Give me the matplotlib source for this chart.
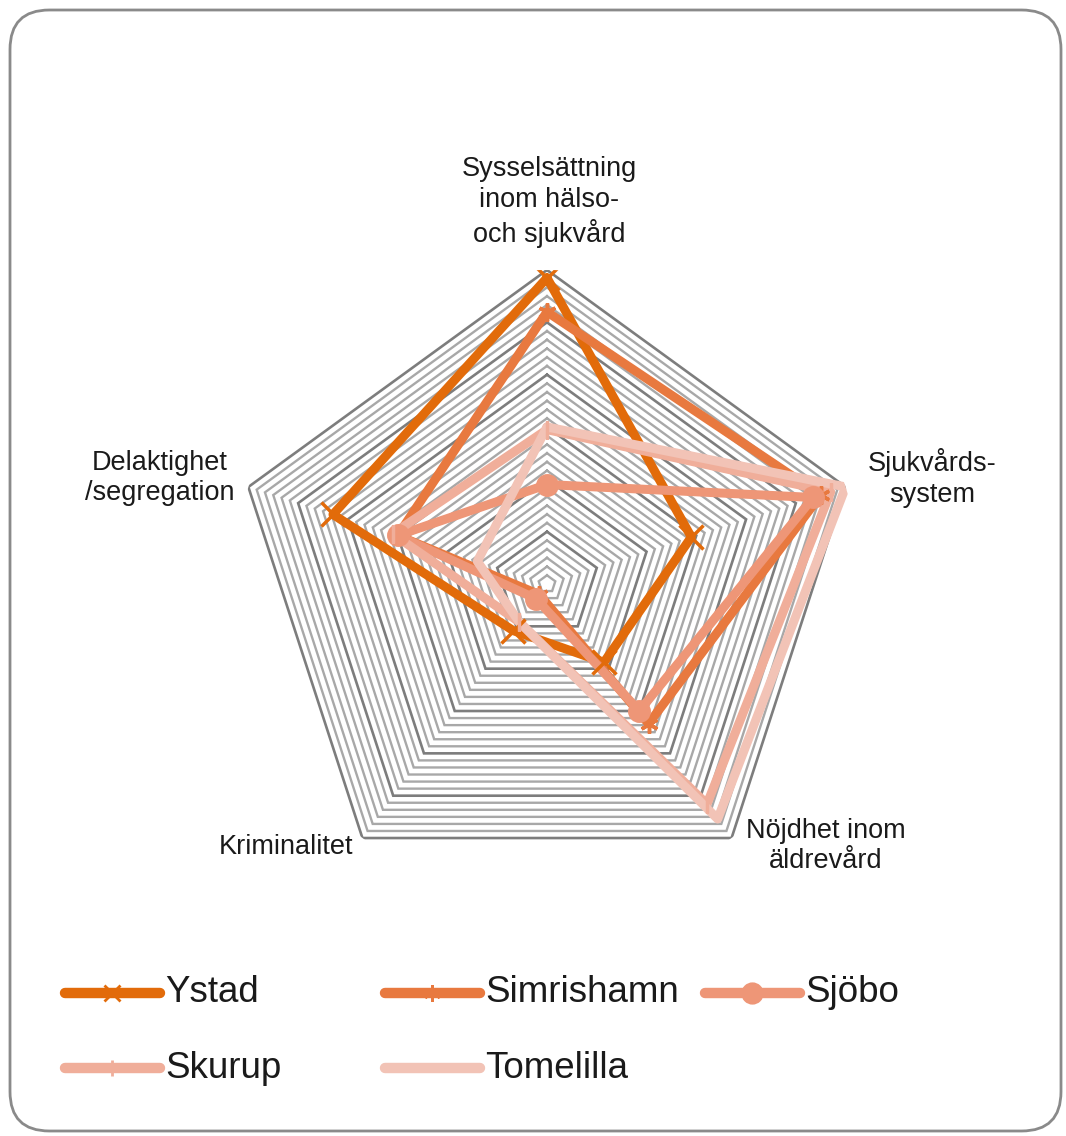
import numpy as np
import matplotlib
matplotlib.use("Agg")
import matplotlib.pyplot as plt
from matplotlib.patches import FancyBboxPatch
from matplotlib.lines import Line2D

# ---------------- data ----------------
categories = ["Sysselsättning\ninom hälso-\noch sjukvård",
              "Sjukvårds-\nsystem",
              "Nöjdhet inom\näldrevård",
              "Kriminalitet",
              "Delaktighet\n/segregation"]
series_names = ["Ystad", "Simrishamn", "Sjöbo", "Skurup", "Tomelilla"]
ystad      = [5.85, 2.90, 1.85, 1.10, 4.30]
simrishamn = [5.20, 5.50, 3.30, 0.25, 3.00]
sjobo      = [1.90, 5.35, 3.00, 0.35, 3.00]
skurup     = [2.95, 5.70, 5.20, 0.90, 3.10]
tomelilla  = [3.00, 6.00, 5.55, 0.90, 1.40]
series_values = [ystad, simrishamn, sjobo, skurup, tomelilla]
r_max = 6.0
major_step = 1.0
minor_per_major = 6

# ---------------- style ----------------
colors = ["#E26B0A", "#E8793F", "#EE9677", "#F0AE9A", "#F2C3B6"]
markers = ["x", (6, 2, 0), "o", "|", None]
msizes = [17, 13, 14, 13, 0]

W, H = 1066, 1136
fig = plt.figure(figsize=(W / 100, H / 100), dpi=100)
plt.rcParams['font.family'] = ['Liberation Sans', 'DejaVu Sans']

def fx(x):
    return x / W

def fy(y):
    return 1 - y / H

# rounded border
border = FancyBboxPatch((fx(10), fy(1131)), fx(1051), 1121 / H,
                        boxstyle="round,pad=0,rounding_size=0.037",
                        transform=fig.transFigure, fill=False,
                        edgecolor="#8a8a8a", linewidth=2.0,
                        mutation_aspect=W / H)
fig.patches.append(border)

cx, cy, R = 547, 584, 314
ax = fig.add_axes([fx(cx - R), fy(cy + R), 2 * R / W, 2 * R / H], projection="polar")
ax.set_theta_offset(np.pi / 2)
ax.set_theta_direction(-1)
ax.set_ylim(0, r_max)
ax.set_xticks([])
ax.set_yticks([])
ax.grid(False)
ax.spines['polar'].set_visible(False)
ax.patch.set_alpha(0)

n = len(categories)
theta = np.linspace(0, 2 * np.pi, n, endpoint=False)
theta_c = np.concatenate([theta, theta[:1]])

# pentagon gridlines
n_rings = int(round(r_max / major_step)) * minor_per_major
for i in range(1, n_rings + 1):
    r = i * major_step / minor_per_major
    major = (i % minor_per_major == 0)
    ax.plot(theta_c, [r] * (n + 1),
            color="#7d7d7d" if major else "#a8a8a8",
            lw=1.9 if major else 1.7, zorder=1, solid_joinstyle="miter")

# series
for name, vals, c, m, ms in zip(series_names, series_values, colors, markers, msizes):
    v = list(vals) + [vals[0]]
    ax.plot(theta_c, v, color=c, lw=6.5, zorder=3, solid_joinstyle="round",
            solid_capstyle="round")
    if m is not None:
        ax.plot(theta, vals, linestyle="none", marker=m, markersize=ms,
                markeredgecolor=c, markerfacecolor=c, markeredgewidth=2.5, zorder=4)

# axis labels
lab_pos = [(549, 202, "center"), (932, 478, "center"), (826, 846, "center"),
           (286, 847, "center"), (160, 478, "center")]
for txt, (x, y, ha) in zip(categories, lab_pos):
    fig.text(fx(x), fy(y), txt, ha=ha, va="center", fontsize=19.5,
             color="#1a1a1a", multialignment="center", linespacing=1.25)

# legend (manual)
leg_pos = [(65, 993), (385, 993), (705, 993), (65, 1068), (385, 1068)]
for name, c, m, (x, y) in zip(series_names, colors, markers, leg_pos):
    ln = Line2D([fx(x), fx(x + 95)], [fy(y), fy(y)], transform=fig.transFigure,
                color=c, lw=7.5, solid_capstyle="round")
    fig.lines.append(ln)
    if m is not None:
        mk = Line2D([fx(x + 47)], [fy(y)], transform=fig.transFigure,
                    marker=m, markersize=12 if m != "o" else 14,
                    color=c, markeredgecolor=c, markeredgewidth=2.0, linestyle="none")
        fig.lines.append(mk)
    fig.text(fx(x + 100), fy(y), name, ha="left", va="center",
             fontsize=26.5, color="#1a1a1a")

fig.savefig("out.png", dpi=100)
